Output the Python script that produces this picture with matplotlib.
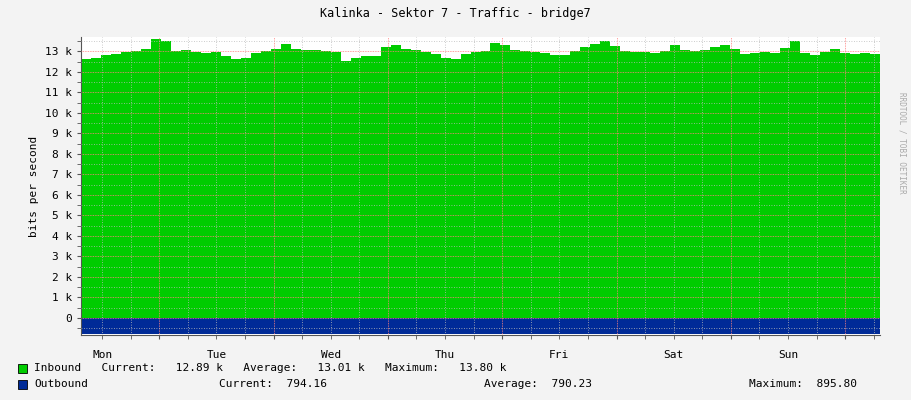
import matplotlib
matplotlib.use("Agg")
import matplotlib.pyplot as plt
import numpy as np
from matplotlib.ticker import MultipleLocator, FuncFormatter

days = ["Mon", "Tue", "Wed", "Thu", "Fri", "Sat", "Sun"]
inbound_k = [12.65, 12.7, 12.8, 12.85, 12.95, 13.0, 13.1, 13.6, 13.5, 13.0, 13.05, 12.95,
             12.9, 12.95, 12.75, 12.65, 12.7, 12.9, 13.0, 13.1, 13.35, 13.1, 13.05, 13.05,
             13.0, 12.95, 12.55, 12.7, 12.75, 12.75, 13.2, 13.3, 13.1, 13.05, 12.95, 12.85,
             12.7, 12.65, 12.85, 12.95, 13.0, 13.4, 13.3, 13.05, 13.0, 12.95, 12.9, 12.8,
             12.8, 13.0, 13.2, 13.35, 13.5, 13.25, 13.0, 12.95, 12.95, 12.9, 13.0, 13.3,
             13.05, 13.0, 13.05, 13.2, 13.3, 13.1, 12.85, 12.9, 12.95, 12.9, 13.15, 13.5,
             12.9, 12.8, 12.95, 13.1, 12.9, 12.85, 12.9, 12.89]
outbound = [780, 790, 795, 770, 800, 790, 785, 795, 760, 790, 800, 790, 780, 795, 790, 770,
            790, 795, 785, 800, 790, 780, 795, 790, 775, 790, 800, 790, 785, 770, 795, 790,
            780, 790, 800, 785, 790, 780, 795, 794]
t_start, t_end = 0.315, 7.305

fig = plt.figure(figsize=(9.11, 4.0), dpi=100, facecolor="#f3f3f3")
ax = fig.add_axes([81/911, 65/400, 799/911, 298/400], facecolor="white")
font = {"family": "DejaVu Sans Mono", "size": 8}

ti = np.linspace(t_start, t_end, len(inbound_k) + 1)
vi = np.append(inbound_k, inbound_k[-1])
ax.fill_between(ti, 0, vi, step="post", color="#00cc00", lw=0)
to = np.linspace(t_start, t_end, len(outbound) + 1)
vo = -np.append(outbound, outbound[-1]) / 1000
ax.fill_between(to, 0, vo, step="post", color="#002a97", lw=0)

ax.set_xlim(t_start, t_end)
ax.set_ylim(-0.83, 13.7)
ax.yaxis.set_major_locator(MultipleLocator(1))
ax.yaxis.set_minor_locator(MultipleLocator(0.5))
ax.yaxis.set_major_formatter(FuncFormatter(lambda v, p: "0" if abs(v) < 1e-9 else ("%d k" % v if v > 0 else "")))
ax.xaxis.set_major_locator(MultipleLocator(1))
ax.xaxis.set_minor_locator(MultipleLocator(0.25))
ax.xaxis.set_major_formatter(FuncFormatter(lambda v, p: ""))
ax.grid(True, which="major", color="#ff8080", ls=(0, (1, 1)), lw=0.6)
ax.grid(True, which="minor", color="#bbbbbb", ls=(0, (1, 2)), lw=0.6)
ax.set_axisbelow(False)
for s in ["top", "right"]:
    ax.spines[s].set_visible(False)
for s in ["left", "bottom"]:
    ax.spines[s].set_color("#555555")
ax.tick_params(which="both", length=3, color="#555555", labelsize=8)
for lab in ax.get_yticklabels():
    lab.set_fontfamily("DejaVu Sans Mono")
for i, d in enumerate(days):
    ax.text(i + 0.5, -0.05, d, transform=ax.get_xaxis_transform(), ha="center", va="top", **font)
ax.set_ylabel("bits per second", **font)

fig.text(455/911, 1 - 14/400, "Kalinka - Sektor 7 - Traffic - bridge7", ha="center", va="center",
         family="DejaVu Sans Mono", size=8.5)
fig.text(902/911, 0.5 + 0.27, "RRDTOOL / TOBI OETIKER", rotation=270, ha="center", va="top",
         family="DejaVu Sans Mono", size=5.5, color="#aaaaaa")

fig.patches.append(plt.Rectangle((18/911, 1 - 373/400), 9/911, 9/400, transform=fig.transFigure,
                                 facecolor="#00cc00", edgecolor="black", lw=0.6))
fig.patches.append(plt.Rectangle((18/911, 1 - 389/400), 9/911, 9/400, transform=fig.transFigure,
                                 facecolor="#002a97", edgecolor="black", lw=0.6))
fig.text(34/911, 1 - 368/400, "Inbound   Current:   12.89 k   Average:   13.01 k   Maximum:   13.80 k",
         va="center", **font)
fig.text(34/911, 1 - 384/400, "Outbound", va="center", **font)
fig.text(219/911, 1 - 384/400, "Current:  794.16", va="center", **font)
fig.text(484/911, 1 - 384/400, "Average:  790.23", va="center", **font)
fig.text(749/911, 1 - 384/400, "Maximum:  895.80", va="center", **font)

fig.savefig("out.png", dpi=100, facecolor=fig.get_facecolor())
